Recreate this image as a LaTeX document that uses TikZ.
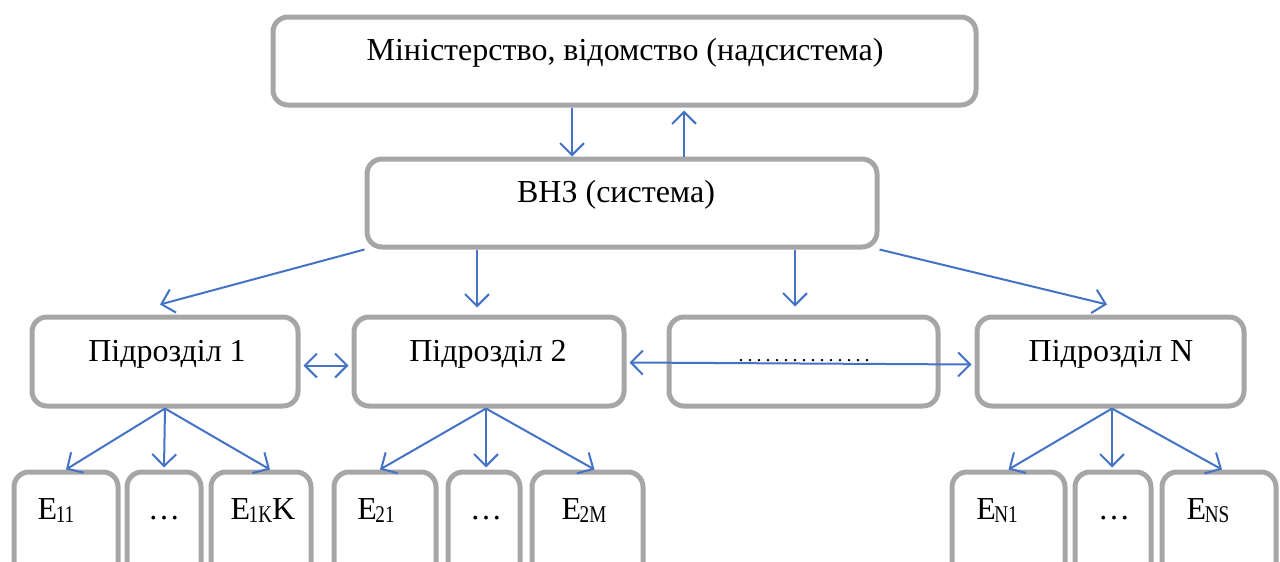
\documentclass[tikz,border=0pt]{standalone}
\usepackage{fontspec}
\setmainfont{Liberation Serif}
\usetikzlibrary{arrows.meta,calc}
\definecolor{boxgray}{RGB}{166,166,166}
\definecolor{arrblue}{RGB}{68,114,196}
\tikzset{
  box/.style={draw=boxgray, line width=5pt, rounded corners=15pt, inner sep=0pt, fill=white},
  lbl/.style={font=\fontsize{32}{34}\selectfont, inner sep=0pt, anchor=base},
  tip/.tip={Straight Barb[length=12pt,width=24pt,line width=2pt]},
  conn/.style={draw=arrblue, line width=2pt, -tip},
  dconn/.style={draw=arrblue, line width=2pt, tip-tip},
}
\newcommand\Esub[2]{E\kern-1.5pt\raisebox{-3pt}{\fontsize{24}{24}\selectfont\addfontfeature{FakeStretch=0.8}#1}#2}
\begin{document}
\begin{tikzpicture}[x=1pt,y=-1pt]
\useasboundingbox (0,0) rectangle (1280,562);
\clip (0,0) rectangle (1280,562);
% boxes
\node[box, minimum width=703pt, minimum height=88pt] (top) at (624.5,61) {};
\node[box, minimum width=510pt, minimum height=88pt] (vnz) at (622,203) {};
\node[box, minimum width=266pt, minimum height=89pt] (p1) at (165,361.5) {};
\node[box, minimum width=270pt, minimum height=89pt] (p2) at (489,361.5) {};
\node[box, minimum width=269pt, minimum height=89pt] (pd) at (803.5,361.5) {};
\node[box, minimum width=267pt, minimum height=89pt] (pn) at (1110.5,361.5) {};
\node[box, minimum width=104pt, minimum height=140pt] (e11) at (66,542) {};
\node[box, minimum width=74pt, minimum height=140pt] (d1) at (164,542) {};
\node[box, minimum width=100pt, minimum height=140pt] (e1k) at (261,542) {};
\node[box, minimum width=102pt, minimum height=140pt] (e21) at (385,542) {};
\node[box, minimum width=72pt, minimum height=140pt] (d2) at (484,542) {};
\node[box, minimum width=111pt, minimum height=140pt] (e2m) at (587.5,542) {};
\node[box, minimum width=113pt, minimum height=140pt] (en1) at (1008.5,542) {};
\node[box, minimum width=76pt, minimum height=140pt] (d3) at (1113,542) {};
\node[box, minimum width=114pt, minimum height=140pt] (ens) at (1219,542) {};
% texts
\node[lbl] (ttop) at (625,60) {Міністерство, відомство (надсистема)};
\node[lbl] (tvnz) at (616,202) {ВНЗ (система)};
\node[lbl] (tp1) at (167,361) {Підрозділ 1};
\node[lbl] (tp2) at (488,361) {Підрозділ 2};
\node[lbl] (tpn) at (1111,361) {Підрозділ N};
\node[inner sep=0pt, anchor=base, font=\fontsize{20}{20}\selectfont] (tpd) at (804,361) {.\kern4pt.\kern4pt.\kern4pt.\kern4pt.\kern4pt.\kern4pt.\kern4pt.\kern4pt.\kern4pt.\kern4pt.\kern4pt.\kern4pt.\kern4pt.\kern4pt.};
\node[lbl] (te11) at (56,519) {\Esub{11}{}};
\node[lbl] (td1) at (164,519) {\ldots};
\node[lbl] (te1k) at (263,519) {\Esub{1K}{K}};
\node[lbl] (te21) at (376,519) {\Esub{21}{}};
\node[lbl] (td2) at (486,519) {\ldots};
\node[lbl] (te2m) at (584,519) {\Esub{2M}{}};
\node[lbl] (ten1) at (997,519) {\Esub{N1}{}};
\node[lbl] (td3) at (1114,519) {\ldots};
\node[lbl] (tens) at (1208,519) {\Esub{NS}{}};
% connectors top
\draw[conn] ([xshift=-52.5pt]top.south) -- ([xshift=-50pt]vnz.north);
\draw[conn] ([xshift=62pt]vnz.north) -- ([xshift=59.5pt,yshift=-3pt]top.south);
% from vnz
\draw[conn] (vnz.south west) -- ([xshift=-5pt,yshift=10pt]p1.north);
\draw[conn] ([xshift=-145pt]vnz.south) -- ([xshift=-12pt,yshift=7pt]p2.north);
\draw[conn] ([xshift=173pt]vnz.south) -- ([xshift=-8.5pt,yshift=8pt]pd.north);
\draw[conn] (vnz.south east) -- ([xshift=-3.5pt,yshift=10pt]pn.north);
% horizontal
\draw[dconn] ([xshift=3pt,yshift=-4pt]p1.east) -- ([xshift=-3pt,yshift=-4pt]p2.west);
\draw[dconn] ([xshift=3pt,yshift=-1pt]p2.east) -- ([xshift=-3pt,yshift=-3pt]pn.west);
% to bottom
\draw[conn] (p1.south) -- (e11.north);
\draw[conn] (p1.south) -- ([yshift=2pt]d1.north);
\draw[conn] (p1.south) -- ([xshift=9pt]e1k.north);
\draw[conn] ([xshift=-3pt]p2.south) -- ([xshift=-5pt]e21.north);
\draw[conn] ([xshift=-3pt]p2.south) -- ([xshift=2pt,yshift=2pt]d2.north);
\draw[conn] ([xshift=-3pt]p2.south) -- ([xshift=7pt]e2m.north);
\draw[conn] ([xshift=1.5pt]pn.south) -- (en1.north);
\draw[conn] ([xshift=1.5pt]pn.south) -- ([xshift=-1pt,yshift=2pt]d3.north);
\draw[conn] ([xshift=1.5pt]pn.south) -- ([xshift=3pt]ens.north);
\end{tikzpicture}
\end{document}
